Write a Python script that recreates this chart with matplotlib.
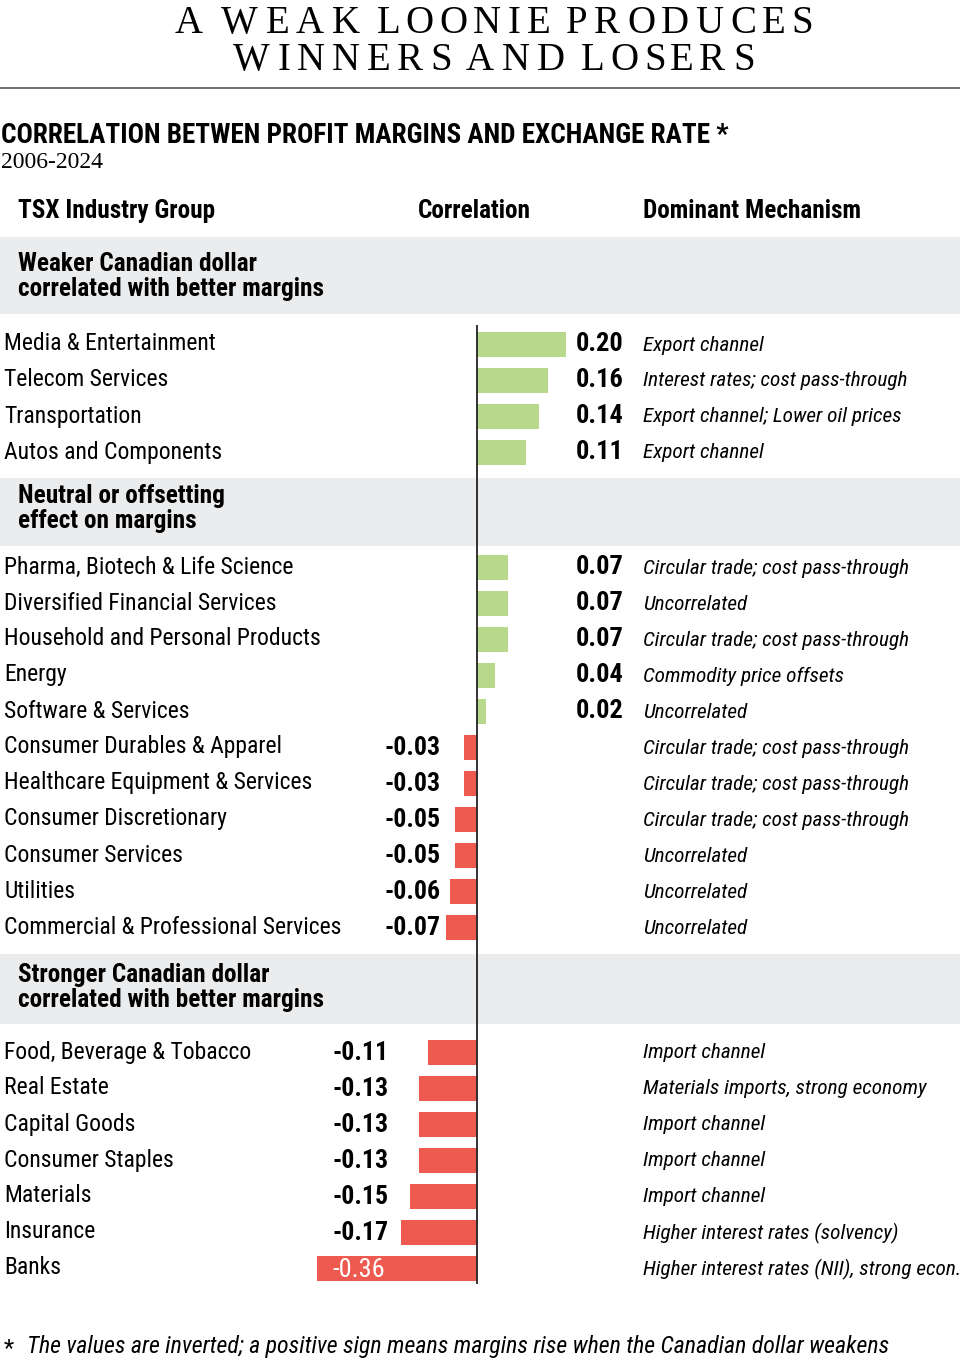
import matplotlib
matplotlib.use("Agg")
import matplotlib.pyplot as plt
from matplotlib.font_manager import FontProperties
from matplotlib.textpath import TextPath

# ── 데이터 ─────────────────────────────────────────────────────────
sec1_groups = ["Media & Entertainment", "Telecom Services", "Transportation",
               "Autos and Components"]
sec1_values = [0.20, 0.16, 0.14, 0.11]
sec1_mech = ["Export channel", "Interest rates; cost pass-through",
             "Export channel; Lower oil prices", "Export channel"]

sec2_groups = ["Pharma, Biotech & Life Science", "Diversified Financial Services",
               "Household and Personal Products", "Energy", "Software & Services",
               "Consumer Durables & Apparel", "Healthcare Equipment & Services",
               "Consumer Discretionary", "Consumer Services", "Utilities",
               "Commercial & Professional Services"]
sec2_values = [0.07, 0.07, 0.07, 0.04, 0.02, -0.03, -0.03, -0.05, -0.05, -0.06, -0.07]
sec2_mech = ["Circular trade; cost pass-through", "Uncorrelated",
             "Circular trade; cost pass-through", "Commodity price offsets",
             "Uncorrelated", "Circular trade; cost pass-through",
             "Circular trade; cost pass-through", "Circular trade; cost pass-through",
             "Uncorrelated", "Uncorrelated", "Uncorrelated"]

sec3_groups = ["Food, Beverage & Tobacco", "Real Estate", "Capital Goods",
               "Consumer Staples", "Materials", "Insurance", "Banks"]
sec3_values = [-0.11, -0.13, -0.13, -0.13, -0.15, -0.17, -0.36]
sec3_mech = ["Import channel", "Materials imports, strong economy", "Import channel",
             "Import channel", "Import channel", "Higher interest rates (solvency)",
             "Higher interest rates (NII), strong econ."]

section_titles = [["Weaker Canadian dollar", "correlated with better margins"],
                  ["Neutral or offsetting", "effect on margins"],
                  ["Stronger Canadian dollar", "correlated with better margins"]]
col_headers = ["TSX Industry Group", "Correlation", "Dominant Mechanism"]

TITLE = ["A WEAK LOONIE PRODUCES", "WINNERS AND LOSERS"]
SUBTITLE = "CORRELATION BETWEN PROFIT MARGINS AND EXCHANGE RATE *"
YEARS = "2006-2024"
FOOTNOTE = "The values are inverted; a positive sign means margins rise when the Canadian dollar weakens"

# ── 스타일 ─────────────────────────────────────────────────────────
W, H, DPI = 960, 1368, 100
GREEN = "#b8d98b"
RED = "#ef5a50"
BAND = "#ebeced"
COND = ["Roboto Condensed", "DejaVu Sans"]
SERIF = ["Liberation Serif", "DejaVu Serif"]

fig = plt.figure(figsize=(W / DPI, H / DPI), dpi=DPI)
fig.patch.set_facecolor("white")


def ftext(x, y, s, **kw):
    """픽셀 좌표(좌상단 원점)로 텍스트 배치."""
    kw.setdefault("family", COND)
    kw.setdefault("va", "center")
    return fig.text(x / W, 1 - y / H, s, **kw)


def tracked_title(text, xc, yb, size, target_w):
    """자간을 넓힌 제목: 글자 하나씩 배치."""
    fp = FontProperties(family=SERIF, size=size)
    px = size * DPI / 72
    widths = []
    for ch in text:
        if ch == " ":
            widths.append(None)
        else:
            widths.append(TextPath((0, 0), ch, size=px, prop=fp).get_extents().width)
    ink = sum(w for w in widths if w is not None)
    n_sp = text.count(" ")
    space_extra = 0.25 * px
    gaps = len(text) - 1 - n_sp
    t = (target_w - ink - n_sp * space_extra) / gaps
    x = xc - target_w / 2
    for ch, w in zip(text, widths):
        if w is None:
            x += space_extra
            continue
        ftext(x, yb, ch, family=SERIF, size=size, va="baseline", ha="left")
        x += w + t


# 제목
tracked_title(TITLE[0], 491, 33, 28, 633)
tracked_title(TITLE[1], 491, 70, 28, 517)

# 배경 패널 축 (전체 그림, 픽셀 단위)
bg = fig.add_axes([0, 0, 1, 1])
bg.set_xlim(0, W)
bg.set_ylim(H, 0)
bg.axis("off")
bg.axhline(88, color="#666666", lw=1.3)
band_spans = [(237, 314), (478, 546), (954, 1024)]
for y0, y1 in band_spans:
    bg.axhspan(y0, y1, color=BAND, lw=0, zorder=0)

ftext(1, 143, SUBTITLE, size=19.5, weight="bold", va="baseline")
ftext(1, 168, YEARS, family=SERIF, size=17, va="baseline")

header_x = [18, 418, 643]
for hx, htxt in zip(header_x, col_headers):
    ftext(hx, 211, htxt, size=18.2, weight="bold")

title_y = [264, 496, 975]
for ty, (l1, l2) in zip(title_y, section_titles):
    ftext(18, ty, l1, size=18.2, weight="bold")
    ftext(18, ty + 25, l2, size=18.2, weight="bold")

# 막대 축: x=0 → 477px, 445px / 단위
X0, SCALE = 477, 445
xmin, xmax = -0.40, 0.24
ax = fig.add_axes([(X0 + xmin * SCALE) / W, 0, (xmax - xmin) * SCALE / W, 1])
ax.set_xlim(xmin, xmax)
ax.set_ylim(H, 0)
ax.axis("off")
ax.patch.set_alpha(0)

PITCH = 36
sections = [
    (sec1_groups, sec1_values, sec1_mech, 343, 385),
    (sec2_groups, sec2_values, sec2_mech, 566, 385),
    (sec3_groups, sec3_values, sec3_mech, 1051, 332),
]
for groups, values, mech, y_start, neg_x in sections:
    ys = [y_start + i * PITCH for i in range(len(groups))]
    colors = [GREEN if v > 0 else RED for v in values]
    ax.barh([y + 1.5 for y in ys], values, height=25, color=colors, lw=0, zorder=2)
    for y, g, v, m in zip(ys, groups, values, mech):
        ftext(4, y + 1, g, size=17)
        ftext(643, y + 2, m, size=15.3, style="italic")
        if v > 0:
            ftext(576, y + 1, f"{v:.2f}", size=19, weight="bold")
        elif X0 + v * SCALE < neg_x + 40:
            ftext(neg_x, y + 3, f"{v:.2f}", size=19, color="white")
        else:
            ftext(neg_x, y + 2, f"{v:.2f}", size=18.5, weight="bold")

ax.vlines(0, 325, 1284, color="#222222", lw=1.3, zorder=3)

ftext(4, 1349, "*", size=17)
ftext(27, 1347, FOOTNOTE, size=17.2, style="italic")

fig.savefig("out.png", dpi=DPI, facecolor="white")
